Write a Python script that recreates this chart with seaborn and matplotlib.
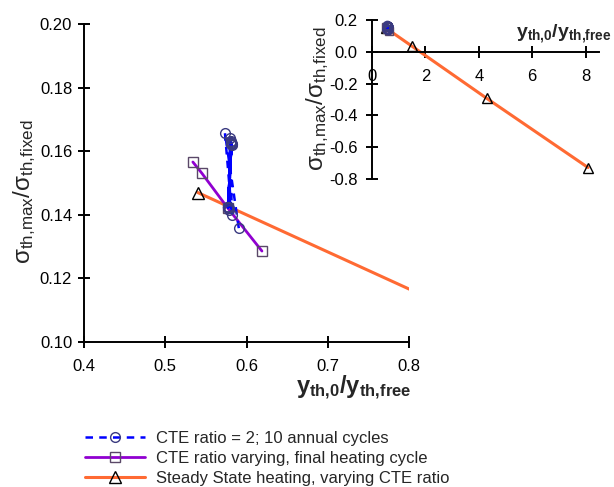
import matplotlib
matplotlib.use("Agg")
import matplotlib.pyplot as plt
import seaborn as sns
import numpy as np
import pandas as pd

# CTE ratio = 2, ten annual cycles (max / min per cycle)
cyc_x = [0.5905, 0.5735, 0.5820, 0.5795, 0.5790, 0.5805, 0.5780, 0.5810, 0.5775, 0.5812,
         0.5773, 0.5814, 0.5772, 0.5815, 0.5771, 0.5816, 0.5770, 0.5816, 0.5770, 0.5817]
cyc_y = [0.1358, 0.1657, 0.1400, 0.1640, 0.1415, 0.1632, 0.1420, 0.1628, 0.1422, 0.1625,
         0.1423, 0.1624, 0.1424, 0.1623, 0.1424, 0.1622, 0.1425, 0.1622, 0.1425, 0.1621]

# CTE ratio varying, final heating cycle
var_x = [0.534, 0.545, 0.577, 0.619]
var_y = [0.1566, 0.1531, 0.1421, 0.1286]

# Steady state heating, varying CTE ratio
ss_x = [0.54, 1.50, 4.29, 8.09]
ss_y = [0.147, 0.035, -0.292, -0.728]

labels = ["CTE ratio = 2; 10 annual cycles",
          "CTE ratio varying, final heating cycle",
          "Steady State heating, varying CTE ratio"]

main_xticks = [0.4, 0.5, 0.6, 0.7, 0.8]
main_yticks = [0.10, 0.12, 0.14, 0.16, 0.18, 0.20]
inset_xticks = [0, 2, 4, 6, 8]
inset_yticks = [0.2, 0.0, -0.2, -0.4, -0.6, -0.8]

sns.set_style("ticks")
plt.rcParams["font.family"] = ["Liberation Sans", "DejaVu Sans"]
plt.rcParams["mathtext.fontset"] = "custom"
plt.rcParams["mathtext.rm"] = "Liberation Sans"
plt.rcParams["mathtext.bf"] = "Liberation Sans:bold"
plt.rcParams["mathtext.it"] = "Liberation Sans:italic"

BLUE = "#0000ff"
PURPLE = "#9000d0"
ORANGE = "#ff6a33"

fig = plt.figure(figsize=(6.14, 4.87), dpi=100)
ax = fig.add_axes([84 / 614, 1 - 342 / 487, (409 - 84) / 614, (342 - 24) / 487])
axi = fig.add_axes([372 / 614, 1 - 179 / 487, (599 - 372) / 614, (179 - 20) / 487])

df_c = pd.DataFrame({"x": cyc_x, "y": cyc_y})
df_v = pd.DataFrame({"x": var_x, "y": var_y})
df_s = pd.DataFrame({"x": ss_x, "y": ss_y})


def draw(a, ms):
    sns.lineplot(data=df_s, x="x", y="y", sort=False, estimator=None, ax=a,
                 color=ORANGE, lw=2.2, marker="^", markersize=ms + 1,
                 markerfacecolor="none", markeredgecolor="black", markeredgewidth=1.0,
                 label=labels[2], zorder=2)
    sns.lineplot(data=df_v, x="x", y="y", sort=False, estimator=None, ax=a,
                 color=PURPLE, lw=2.0, marker="s", markersize=ms,
                 markerfacecolor="none", markeredgecolor="#5a4868", markeredgewidth=1.0,
                 label=labels[1], zorder=3)
    sns.lineplot(data=df_c, x="x", y="y", sort=False, estimator=None, ax=a,
                 color=BLUE, lw=1.8, linestyle=(0, (3, 2.5)), marker="o", markersize=ms,
                 markerfacecolor="none", markeredgecolor="#3a3a80", markeredgewidth=1.0,
                 label=labels[0], zorder=4)


draw(ax, 7)
draw(axi, 6)

for a in (ax, axi):
    a.set_xlabel("")
    a.set_ylabel("")
    a.spines["top"].set_visible(False)
    a.spines["right"].set_visible(False)
    for s in ("left", "bottom"):
        a.spines[s].set_linewidth(1.4)
        a.spines[s].set_color("black")
    a.tick_params(direction="inout", length=9, width=1.4, labelsize=12, colors="black")
    a.patch.set_alpha(0)

ax.set_xlim(0.4, 0.8)
ax.set_ylim(0.10, 0.20)
ax.set_xticks(main_xticks)
ax.set_xticklabels([f"{v:.1f}" for v in main_xticks])
ax.set_yticks(main_yticks)
ax.set_yticklabels([f"{v:.2f}" for v in main_yticks])
ax.tick_params(axis="x", pad=8)
ax.tick_params(axis="y", pad=4)
ax.get_legend().remove()

axi.set_xlim(0, 8.5)
axi.set_ylim(-0.8, 0.2)
axi.spines["bottom"].set_position(("data", 0))
axi.spines["left"].set_position(("data", 0))
axi.set_xticks(inset_xticks)
axi.set_xticklabels([str(v) for v in inset_xticks])
axi.set_yticks(inset_yticks)
axi.set_yticklabels([f"{v:.1f}" for v in inset_yticks])
axi.tick_params(axis="x", pad=8)
axi.tick_params(axis="y", pad=6)
axi.get_legend().remove()

ylab = "σ$_{\\rm th{,}max}$/σ$_{\\rm th{,}fixed}$"
xlab = r"$\mathbf{y}_{\mathbf{th{,}0}}\mathbf{/y}_{\mathbf{th{,}free}}$"

fig.text(25 / 614, 1 - 192 / 487, ylab, rotation=90, ha="center", va="center", fontsize=17.5)
fig.text(411 / 614, 1 - 388 / 487, xlab, ha="right", va="center", fontsize=17)
fig.text(318 / 614, 1 - 99 / 487, ylab, rotation=90, ha="center", va="center", fontsize=17.5)
fig.text(611 / 614, 1 - 34 / 487, xlab, ha="right", va="center", fontsize=14)

handles, lbls = ax.get_legend_handles_labels()
order = [lbls.index(l) for l in labels]
fig.legend([handles[i] for i in order], [lbls[i] for i in order],
           loc="upper left", bbox_to_anchor=(78 / 614, 1 - 424 / 487),
           frameon=False, fontsize=12, handlelength=3.6, handletextpad=0.7,
           labelspacing=0.3, borderaxespad=0)

fig.savefig("out.png", dpi=100)
